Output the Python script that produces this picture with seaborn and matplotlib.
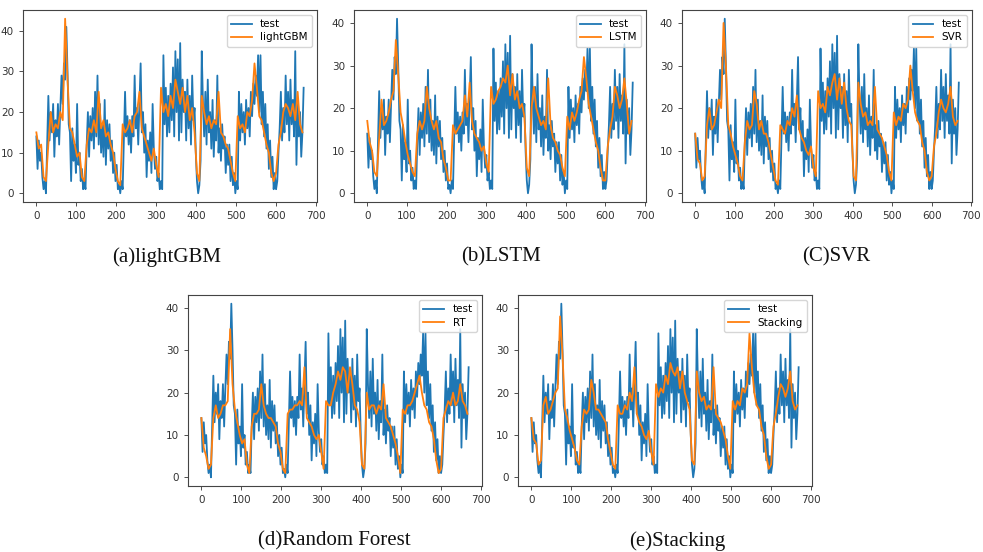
import numpy as np
import pandas as pd
import matplotlib
matplotlib.use("Agg")
import matplotlib.pyplot as plt
import seaborn as sns

# ---- data ----
test_x = list(range(0, 670, 3))
test_y = [
    14, 6, 13, 8, 10, 4, 1, 3, 0, 12,
    24, 13, 20, 15, 22, 9, 18, 14, 22, 12,
    21, 29, 22, 32, 28, 41, 30, 17, 15, 3,
    16, 8, 12, 5, 22, 7, 10, 3, 6, 1,
    3, 1, 12, 20, 9, 19, 13, 21, 11, 25,
    14, 29, 12, 22, 10, 17, 9, 23, 7, 18,
    11, 17, 8, 13, 5, 10, 3, 7, 1, 2,
    0, 3, 1, 13, 25, 14, 19, 12, 18, 10,
    19, 14, 29, 16, 21, 12, 22, 32, 15, 20,
    10, 17, 4, 13, 8, 15, 5, 22, 11, 6,
    9, 3, 5, 1, 3, 1, 34, 17, 26, 14,
    24, 15, 27, 18, 31, 14, 35, 20, 33, 13,
    37, 15, 28, 20, 25, 13, 28, 16, 24, 12,
    29, 18, 21, 10, 3, 0, 2, 8, 35, 22,
    14, 25, 12, 28, 15, 20, 11, 23, 9, 18,
    13, 29, 10, 16, 8, 17, 11, 14, 5, 12,
    7, 12, 3, 9, 2, 5, 0, 3, 1, 25,
    13, 22, 15, 20, 12, 23, 16, 21, 14, 25,
    19, 27, 22, 29, 24, 34, 20, 34, 17, 25,
    14, 22, 11, 17, 6, 13, 4, 9, 1, 5,
    1, 3, 10, 16, 25, 13, 21, 15, 29, 17,
    25, 13, 28, 17, 23, 14, 35, 7, 22, 14,
    20, 9, 15, 26,
]

pred_x = list(range(0, 670, 6))
lightgbm = [
    15, 11, 12, 4, 3, 12, 20, 15, 17, 16,
    20, 18, 43, 28, 16, 15, 12, 9, 10, 4,
    3, 12, 16, 15, 18, 15, 25, 16, 18, 14,
    15, 12, 10, 6, 3, 2, 17, 15, 16, 18,
    15, 19, 20, 25, 16, 14, 12, 10, 8, 11,
    7, 4, 26, 20, 22, 19, 24, 21, 28, 25,
    22, 26, 20, 24, 18, 21, 15, 5, 3, 24,
    20, 17, 19, 16, 18, 17, 25, 15, 14, 12,
    11, 8, 5, 3, 19, 16, 17, 15, 20, 19,
    23, 32, 26, 19, 18, 15, 12, 10, 5, 3,
    5, 12, 15, 20, 22, 21, 19, 22, 18, 25,
    17, 15,
]
lstm = [
    17, 12, 10, 5, 4, 13, 22, 16, 17, 19,
    22, 24, 36, 28, 19, 16, 12, 9, 7, 5,
    4, 14, 17, 15, 17, 25, 20, 17, 15, 17,
    13, 12, 8, 6, 3, 3, 16, 14, 15, 16,
    17, 23, 18, 26, 17, 14, 13, 12, 10, 11,
    7, 5, 25, 21, 22, 24, 25, 27, 26, 30,
    23, 28, 22, 24, 20, 21, 18, 6, 4, 20,
    25, 20, 18, 16, 17, 15, 27, 16, 13, 12,
    10, 9, 6, 4, 18, 15, 19, 17, 19, 22,
    24, 32, 27, 21, 18, 15, 12, 10, 6, 3,
    3, 11, 15, 18, 25, 23, 20, 22, 27, 21,
    14, 17,
]
svr = [
    14, 8, 7, 3, 4, 16, 20, 15, 16, 19,
    22, 20, 40, 30, 16, 14, 11, 9, 7, 4,
    3, 12, 17, 15, 16, 24, 21, 15, 17, 14,
    14, 12, 9, 6, 3, 2, 16, 15, 14, 17,
    16, 20, 18, 23, 15, 13, 12, 10, 9, 11,
    6, 4, 24, 20, 21, 19, 25, 23, 26, 28,
    22, 27, 21, 26, 20, 17, 16, 4, 3, 26,
    21, 18, 19, 16, 17, 16, 25, 15, 14, 13,
    11, 9, 5, 3, 19, 16, 18, 17, 21, 20,
    22, 30, 24, 19, 17, 16, 12, 10, 5, 3,
    4, 11, 14, 19, 22, 20, 19, 21, 25, 18,
    16, 17,
]
rt = [
    14, 7, 5, 2, 3, 14, 17, 14, 15, 17,
    17, 18, 35, 22, 16, 13, 10, 8, 9, 3,
    1, 12, 15, 15, 16, 22, 17, 15, 14, 14,
    13, 12, 8, 6, 2, 1, 15, 16, 16, 17,
    17, 18, 17, 26, 14, 13, 12, 10, 9, 10,
    6, 2, 18, 17, 17, 20, 22, 25, 23, 26,
    25, 20, 26, 22, 17, 16, 13, 3, 2, 20,
    16, 17, 17, 15, 17, 16, 22, 14, 13, 12,
    10, 8, 5, 1, 16, 15, 17, 17, 18, 20,
    22, 24, 20, 17, 16, 13, 12, 9, 4, 1,
    2, 14, 16, 18, 17, 20, 17, 18, 22, 18,
    17, 15,
]
stacking = [
    14, 9, 8, 3, 4, 17, 19, 15, 16, 18,
    20, 21, 38, 29, 16, 14, 11, 9, 7, 4,
    3, 12, 16, 15, 16, 23, 20, 16, 16, 15,
    14, 13, 9, 6, 3, 2, 17, 15, 15, 17,
    16, 20, 18, 26, 15, 13, 12, 10, 9, 11,
    6, 3, 22, 19, 21, 20, 24, 22, 27, 25,
    24, 26, 21, 25, 20, 18, 16, 4, 3, 25,
    20, 18, 19, 16, 17, 16, 26, 15, 14, 13,
    11, 9, 5, 2, 18, 16, 18, 17, 21, 20,
    22, 34, 26, 20, 17, 16, 12, 10, 5, 2,
    3, 12, 15, 19, 22, 21, 19, 21, 25, 18,
    16, 17,
]

model_names = ["lightGBM", "LSTM", "SVR", "RT", "Stacking"]
model_preds = [lightgbm, lstm, svr, rt, stacking]
captions = ["(a)lightGBM", "(b)LSTM", "(C)SVR", "(d)Random Forest", "(e)Stacking"]

# ---- layout ----
W, H = 983, 552
fig = plt.figure(figsize=(W / 100, H / 100), dpi=100)
fig.patch.set_facecolor("white")

# pixel boxes (left, top, right, bottom)
boxes = [
    (23, 10, 317, 202),
    (354, 10, 646, 202),
    (682, 10, 972, 202),
    (188, 295, 482, 486),
    (518, 295, 812, 486),
]
cap_pos = [(167, 257), (501, 257), (836, 257), (334, 541), (677, 541)]

blue = "#1f77b4"
orange = "#ff7f0e"

test_df = pd.DataFrame({"x": test_x, "y": test_y})

for i, (name, pred) in enumerate(zip(model_names, model_preds)):
    l, t, r, b = boxes[i]
    ax = fig.add_axes([l / W, 1 - b / H, (r - l) / W, (b - t) / H])
    pred_df = pd.DataFrame({"x": pred_x, "y": pred})
    sns.lineplot(data=test_df, x="x", y="y", ax=ax, color=blue, lw=1.3,
                 label="test", estimator=None, sort=False)
    sns.lineplot(data=pred_df, x="x", y="y", ax=ax, color=orange, lw=1.3,
                 label=name, estimator=None, sort=False)
    ax.set_xlabel("")
    ax.set_ylabel("")
    ax.set_xticks([0, 100, 200, 300, 400, 500, 600, 700])
    ax.set_yticks([0, 10, 20, 30, 40])
    ax.tick_params(labelsize=7.5, length=3, width=0.6, colors="#333333")
    for s in ax.spines.values():
        s.set_color("#444444")
        s.set_linewidth(0.8)
    ax.margins(x=0.05, y=0.05)
    ax.set_facecolor("white")
    leg = ax.legend(loc="upper right", fontsize=7.5, frameon=True,
                    handlelength=2.0, borderpad=0.4, labelspacing=0.3)
    leg.get_frame().set_edgecolor("#cccccc")
    cx, cy = cap_pos[i]
    fig.text(cx / W, 1 - cy / H, captions[i], ha="center", va="center",
             fontsize=15, family=["Liberation Serif", "DejaVu Serif"],
             color="#111111")

fig.savefig("out.png", dpi=100, facecolor="white")
